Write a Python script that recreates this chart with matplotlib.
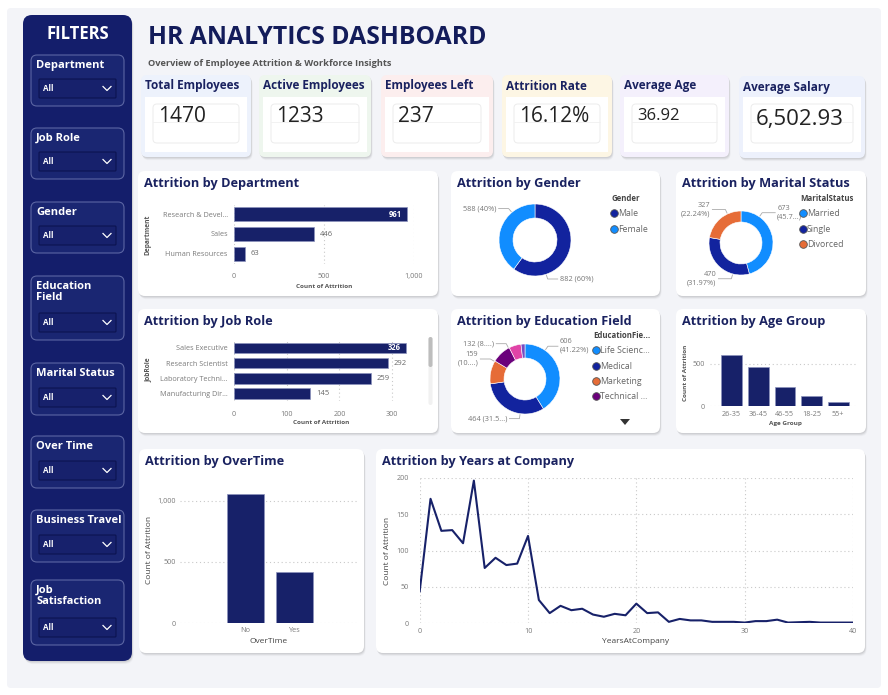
import math
import matplotlib
matplotlib.use("Agg")
import matplotlib.pyplot as plt
from matplotlib.patches import FancyBboxPatch, Polygon
from matplotlib.lines import Line2D

plt.rcParams['font.family'] = ['Open Sans', 'DejaVu Sans']

# ---------------- data ----------------
filter_names = ["Department", "Job Role", "Gender", "Education\nField", "Marital Status",
                "Over Time", "Business Travel", "Job\nSatisfaction"]
kpi_titles = ["Total Employees", "Active Employees", "Employees Left", "Attrition Rate",
              "Average Age", "Average Salary"]
kpi_values = ["1470", "1233", "237", "16.12%", "36.92", "6,502.93"]

dept_names = ["Research & Devel...", "Sales", "Human Resources"]
dept_vals = [961, 446, 63]

gender_names = ["Male", "Female"]
gender_vals = [882, 588]
gender_labels = ["882 (60%)", "588 (40%)"]

marital_names = ["Married", "Single", "Divorced"]
marital_vals = [673, 470, 327]
marital_labels = ["673\n(45.7...)", "470\n(31.97%)", "327\n(22.24%)"]

job_names = ["Sales Executive", "Research Scientist", "Laboratory Techni...", "Manufacturing Dir..."]
job_vals = [326, 292, 259, 145]

edu_names = ["Life Sciences", "Medical", "Marketing", "Technical Degree", "Other", "Human Resources"]
edu_legend = ["Life Scienc...", "Medical", "Marketing", "Technical ..."]
edu_vals = [606, 464, 159, 132, 82, 27]
edu_labels = ["606\n(41.22%)", "464 (31.5...)", "159\n(10....)", "132 (8....)", None, None]

age_groups = ["26-35", "36-45", "46-55", "18-25", "55+"]
age_vals = [606, 468, 226, 123, 47]

ot_names = ["No", "Yes"]
ot_vals = [1054, 416]

years = [0, 1, 2, 3, 4, 5, 6, 7, 8, 9, 10, 11, 12, 13, 14, 15, 16, 17, 18, 19, 20,
         21, 22, 23, 24, 25, 26, 27, 29, 30, 31, 32, 33, 34, 36, 37, 40]
year_counts = [44, 171, 127, 128, 110, 196, 76, 90, 80, 82, 120, 32, 14, 24, 18, 20, 12, 9, 13, 11, 27,
               14, 15, 2, 6, 4, 4, 2, 2, 1, 3, 3, 5, 1, 2, 1, 1]

# ---------------- styles ----------------
W, H = 888, 695
NAVY = "#172169"
TITLE = "#1A2260"
SIDEBAR = "#141E6B"
BLUE = "#118DFF"
DBLUE = "#12239E"
ORANGE = "#E66C37"
PURPLE = "#6B007B"
PINK = "#E044A7"
VIOLET = "#744EC2"
TICK = "#7A7A7A"
GRID = "#C9C9C9"

fig = plt.figure(figsize=(W / 100, H / 100), dpi=100, facecolor="white")
bg = fig.add_axes([0, 0, 1, 1])
bg.set_xlim(0, W)
bg.set_ylim(H, 0)
bg.axis("off")


def rrect(x0, y0, x1, y1, fc, ec="none", lw=0, r=6, z=1, alpha=1.0):
    p = FancyBboxPatch((x0, y0), x1 - x0, y1 - y0,
                       boxstyle=f"round,pad=0,rounding_size={r}",
                       fc=fc, ec=ec, lw=lw, zorder=z, alpha=alpha)
    bg.add_patch(p)
    return p


def card(x0, y0, x1, y1, fc="white", r=7, z=2):
    for off, a in [(4, 0.025), (3, 0.04), (2, 0.05), (1, 0.05)]:
        rrect(x0 + off * 0.4, y0 + off * 0.8, x1 + off * 0.4, y1 + off * 0.8, "#000000", r=r, z=z, alpha=a)
    rrect(x0, y0, x1, y1, fc, r=r, z=z + 0.1)


def ax_px(x0, y0, x1, y1):
    a = fig.add_axes([x0 / W, 1 - y1 / H, (x1 - x0) / W, (y1 - y0) / H])
    a.set_facecolor("none")
    for s in a.spines.values():
        s.set_visible(False)
    return a


def dotted_grid(a, axis):
    a.grid(True, axis=axis, linestyle=(0, (1, 2.5)), color=GRID, linewidth=0.8)
    a.set_axisbelow(True)


# outer background panel
rrect(7, 8, 881, 688, "#F3F4F8", r=4, z=0.5)

# ---------------- sidebar ----------------
card(23, 15, 132, 661, fc=SIDEBAR, r=9)
bg.text(78, 34, "FILTERS", color="white", fontsize=12, fontweight="bold", ha="center", va="center", zorder=5)
box_tops = [55, 128, 202, 276, 363, 436, 510, 580]
box_bots = [106, 179, 253, 340, 415, 488, 562, 645]
for name, t, b in zip(filter_names, box_tops, box_bots):
    rrect(31, t, 124, b, "#1A2672", ec="#5B65A3", lw=0.8, r=6, z=4)
    bg.text(36, t + 5, name, color="white", fontsize=8, fontweight="bold", ha="left", va="top",
            linespacing=1.05, zorder=5)
    dt = b - 27
    rrect(39, dt, 116, dt + 19, "#17216C", ec="#0C1350", lw=0.8, r=1, z=5)
    bg.text(43, dt + 9.5, "All", color="white", fontsize=5.8, fontweight="bold", ha="left", va="center", zorder=6)
    bg.plot([103, 107, 111], [dt + 7.5, dt + 11.5, dt + 7.5], color="white", lw=0.9, zorder=6)

# ---------------- header ----------------
bg.text(148, 38, "HR ANALYTICS DASHBOARD", color="#131C5A", fontsize=17.8, fontweight="bold",
        ha="left", va="center", zorder=5)
bg.text(148, 63, "Overview of Employee Attrition & Workforce Insights", color="#555555", fontsize=6.7,
        fontweight="bold", ha="left", va="center", zorder=5)

# ---------------- KPI cards ----------------
kpi_x = [(141, 251), (259, 371), (381, 493), (502, 612), (620, 729), (739, 865)]
kpi_tint = ["#EDF2FC", "#EEF6EE", "#FCEEEE", "#FDF6E4", "#F4F0FC", "#EDF1FC"]
kpi_vsize = [15, 15, 15, 15, 12, 16]
for (x0, x1), t, v, c, vs in zip(kpi_x, kpi_titles, kpi_values, kpi_tint, kpi_vsize):
    last = x0 > 735
    y0 = 76 if last else 75
    card(x0, y0, x1, 158 if last else 157, fc=c, r=6)
    bg.add_patch(plt.Rectangle((x0 + 4, 97), x1 - x0 - 8, 55, fc="white", ec="none", zorder=3))
    rrect(x0 + 12, 104, x1 - 12, 143, "white", ec="#ECECEC", lw=0.7, r=4, z=3.5)
    bg.plot([x0 + 12, x1 - 12], [122, 122], color="#F0F0F0", lw=0.6, zorder=3.6)
    bg.text(x0 + 4, 88 if last else 86, t, color=TITLE, fontsize=8.5, fontweight="bold",
            ha="left", va="center", zorder=5)
    bg.text(x0 + 17, 119 if last else 116, v, color="#222222", fontsize=vs, ha="left",
            va="center", zorder=5)

# ---------------- chart panels ----------------
panels = [((138, 171, 438, 296), "Attrition by Department"),
          ((451, 171, 660, 296), "Attrition by Gender"),
          ((676, 171, 866, 296), "Attrition by Marital Status"),
          ((138, 309, 438, 433), "Attrition by Job Role"),
          ((451, 309, 660, 433), "Attrition by Education Field"),
          ((676, 309, 866, 433), "Attrition by Age Group"),
          ((139, 449, 364, 653), "Attrition by OverTime"),
          ((376, 449, 865, 653), "Attrition by Years at Company")]
for (x0, y0, x1, y1), t in panels:
    card(x0, y0, x1, y1, fc="white", r=7)
    bg.text(x0 + 6, y0 + 12, t, color=TITLE, fontsize=9.2, fontweight="bold", ha="left",
            va="center", zorder=5)


def hbar(rect, names, vals, xmax, xticks, xticklabels, inside_min, ylab, ylab_x, ylab_y, xlab_y, bar_h):
    a = ax_px(*rect)
    ypos = list(range(len(vals)))
    a.barh(ypos, vals, height=bar_h, color=NAVY, edgecolor="#8C93BC", linewidth=0.5, zorder=3)
    a.set_xlim(0, xmax)
    a.set_ylim(len(vals) - 0.5, -0.5)
    a.set_yticks(ypos)
    a.set_yticklabels(names)
    a.set_xticks(xticks)
    a.set_xticklabels(xticklabels)
    a.tick_params(axis="both", length=0, labelsize=5.2, labelcolor=TICK)
    a.tick_params(axis="y", pad=4.5)
    a.tick_params(axis="x", pad=7)
    dotted_grid(a, "x")
    for yi, v in zip(ypos, vals):
        if v >= inside_min:
            a.annotate(str(v), (v, yi), xytext=(-4, 0), textcoords="offset points", ha="right",
                       va="center", color="white", fontsize=5.5, fontweight="bold", zorder=4)
        else:
            a.annotate(str(v), (v, yi), xytext=(4, 0), textcoords="offset points", ha="left",
                       va="center", color="#666666", fontsize=5.5, zorder=4)
    bg.text(ylab_x, ylab_y, ylab, rotation=90, fontsize=4.8, fontweight="bold", color="#555555",
            ha="center", va="center", zorder=5)
    bg.text((rect[0] + rect[2]) / 2, xlab_y, "Count of Attrition", fontsize=4.6, fontweight="bold",
            color="#555555", ha="center", va="center", zorder=5)
    return a


hbar((234, 204.5, 414, 263.5), dept_names, dept_vals, 1000, [0, 500, 1000], ["0", "500", "1,000"],
     900, "Department", 148, 235, 286, 0.71)
hbar((234, 340.4, 408, 401.2), job_names, job_vals, 330, [0, 100, 200, 300], ["0", "100", "200", "300"],
     310, "JobRole", 148, 370, 423, 0.69)

# scrollbar on job role
rrect(428.5, 337, 432.5, 405, "#F1F1F1", r=2, z=4)
rrect(428.5, 337, 432.5, 367, "#BDBDBD", r=2, z=4.1)


def donut(cx, cy, r_out, r_in, vals, colors, labels, anchor_angles, hlen=10):
    a = ax_px(cx - r_out, cy - r_out, cx + r_out, cy + r_out)
    a.pie(vals, colors=colors, startangle=90, counterclock=False, radius=1,
          wedgeprops=dict(width=1 - r_in / r_out, edgecolor="white", linewidth=0.4))
    a.set_xlim(-1, 1)
    a.set_ylim(-1, 1)
    for lab, ang in zip(labels, anchor_angles):
        if lab is None:
            continue
        th = math.radians(ang)
        ex, ey = cx + (r_out + 1) * math.cos(th), cy - (r_out + 1) * math.sin(th)
        mx, my = cx + (r_out + 5) * math.cos(th), cy - (r_out + 5) * math.sin(th)
        right = math.cos(th) >= 0
        hx = mx + (hlen if right else -hlen)
        bg.plot([ex, mx, hx], [ey, my, my], color="#AAAAAA", lw=0.6, zorder=5)
        bg.text(hx + (2 if right else -2), my, lab, fontsize=5.3, color="#777777",
                ha="left" if right else "right", va="center", linespacing=1.3, zorder=5)
    return a


def legend(title, names, colors, x, y, spacing):
    handles = [Line2D([], [], marker="o", linestyle="none", markerfacecolor=c, markeredgecolor="#555555",
                      markeredgewidth=0.6, markersize=5.5) for c in colors]
    lg = fig.legend(handles, names, title=title, loc="upper left", bbox_to_anchor=(x / W, 1 - y / H),
                    frameon=False, fontsize=6.3, title_fontsize=5.6, handlelength=0.7, handletextpad=0.1,
                    labelspacing=spacing, borderpad=0, borderaxespad=0, alignment="left")
    lg.get_title().set_fontweight("bold")
    lg.get_title().set_color("#444444")
    for t in lg.get_texts():
        t.set_color("#666666")
    return lg


donut(535, 240, 36, 22, gender_vals, [DBLUE, BLUE], gender_labels, [-72, 130])
legend("Gender", gender_names, [DBLUE, BLUE], 611, 194, 0.72)

donut(741, 243, 32, 21, marital_vals, [BLUE, DBLUE, ORANGE], marital_labels, [55, -105, 115], hlen=13)
legend("MaritalStatus", marital_names, [BLUE, DBLUE, ORANGE], 800, 194, 0.72)

donut(525, 379, 35, 21, edu_vals, [BLUE, DBLUE, ORANGE, PURPLE, PINK, VIOLET], edu_labels,
      [55, -98, 150, 118, 0, 0])
legend("EducationFie...", edu_legend, [BLUE, DBLUE, ORANGE, PURPLE], 593, 331, 0.72)
bg.add_patch(Polygon([[620, 419], [630, 419], [625, 425]], closed=True, fc="#333333", ec="none", zorder=5))

# ---------------- age group ----------------
a = ax_px(710, 351.4, 858, 406)
a.bar(range(len(age_vals)), age_vals, width=0.775, color=NAVY, edgecolor="#8C93BC", linewidth=0.5, zorder=3)
a.set_xlim(-0.805, 4.74)
a.set_ylim(0, 650)
a.set_yticks([0, 500])
a.set_xticks(range(len(age_groups)))
a.set_xticklabels(age_groups)
a.tick_params(axis="both", length=0, labelsize=5.2, labelcolor=TICK)
a.tick_params(axis="y", pad=3.5)
a.tick_params(axis="x", pad=3.5)
dotted_grid(a, "y")
bg.text(685, 373, "Count of Attrition", rotation=90, fontsize=4.6, fontweight="bold", color="#555555",
        ha="center", va="center", zorder=5)
bg.text(785, 423.5, "Age Group", fontsize=4.6, fontweight="bold", color="#555555", ha="center",
        va="center", zorder=5)

# ---------------- overtime ----------------
a = ax_px(180, 480, 357.7, 623.3)
a.bar(range(len(ot_vals)), ot_vals, width=0.76, color=NAVY, edgecolor="#8C93BC", linewidth=0.5, zorder=3)
a.set_xlim(-1.325, 2.285)
a.set_ylim(0, 1000 * (623.3 - 480) / 122.7)
a.set_yticks([0, 500, 1000])
a.set_yticklabels(["0", "500", "1,000"])
a.set_xticks(range(len(ot_names)))
a.set_xticklabels(ot_names)
a.tick_params(axis="both", length=0, labelsize=5.2, labelcolor=TICK)
a.tick_params(axis="y", pad=3)
a.tick_params(axis="x", pad=2.5)
dotted_grid(a, "y")
bg.text(149.5, 550, "Count of Attrition", rotation=90, fontsize=6, color="#444444", ha="center",
        va="center", zorder=5)
bg.text(269, 641.7, "OverTime", fontsize=6, color="#444444", ha="center", va="center", zorder=5)

# ---------------- years at company ----------------
a = ax_px(419.7, 477.7, 853, 623.3)
a.plot(years, year_counts, color=NAVY, lw=1.5, zorder=3, solid_joinstyle="round")
a.set_xlim(0, 40)
a.set_ylim(0, 200)
a.set_xticks([0, 10, 20, 30, 40])
a.set_yticks([0, 50, 100, 150, 200])
a.tick_params(axis="both", length=0, labelsize=5.2, labelcolor=TICK)
a.tick_params(axis="y", pad=8)
a.tick_params(axis="x", pad=3.5)
a.grid(True, axis="both", linestyle=(0, (1, 2.5)), color=GRID, linewidth=0.8)
a.set_axisbelow(True)
bg.text(387, 551, "Count of Attrition", rotation=90, fontsize=6, color="#444444", ha="center",
        va="center", zorder=5)
bg.text(636, 641.7, "YearsAtCompany", fontsize=6, color="#444444", ha="center", va="center", zorder=5)

fig.savefig("out.png", dpi=100, facecolor="white")
